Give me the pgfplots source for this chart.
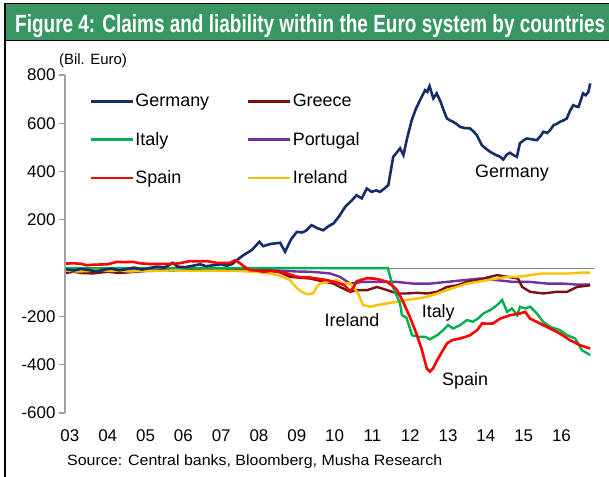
\documentclass[border=0pt]{standalone}
\usepackage{fontspec}
\setmainfont{Liberation Sans}
\usepackage{pgfplots}
\pgfplotsset{compat=1.18}
\definecolor{titlegreen}{RGB}{56,150,100}
\definecolor{cGer}{RGB}{20,45,105}
\definecolor{cGre}{RGB}{122,18,18}
\definecolor{cIta}{RGB}{0,176,80}
\definecolor{cPor}{RGB}{112,48,160}
\definecolor{cSpa}{RGB}{255,0,0}
\definecolor{cIre}{RGB}{255,192,0}
\definecolor{axgray}{RGB}{160,160,160}
\begin{document}
\begin{tikzpicture}[x=1bp,y=1bp]
\path[use as bounding box] (0,0) rectangle (609,477);
\fill[titlegreen] (5,437) rectangle (609,472.5);
\draw[black,line width=1.5bp] (4,473.3) -- (609,473.3);
\draw[black,line width=1.3bp] (5,436.5) -- (609,436.5);
\draw[black,line width=2bp] (5,0) -- (5,474);
\node[anchor=base west,inner sep=0,text=white] at (15,444)
  {\resizebox{590bp}{\height}{\fontsize{25}{28}\selectfont\bfseries Figure 4: Claims and liability within the Euro system by countries}};
\begin{axis}[
  at={(65bp,64bp)}, anchor=south west, scale only axis,
  width=529bp, height=338bp,
  xmin=2.87, xmax=16.86, ymin=-600, ymax=800,
  axis y line*=left, axis x line*=bottom,
  x axis line style={draw=none},
  y axis line style={draw=axgray,line width=1.3bp,-},
  ytick={-600,-400,-200,200,400,600,800},
  yticklabels={-600,-400,-200,200,400,600,800},
  xtick={3,4,5,6,7,8,9,10,11,12,13,14,15,16},
  xticklabels={03,04,05,06,07,08,09,10,11,12,13,14,15,16},
  tick align=outside, major tick length=6bp,
  ytick style={draw=axgray,line width=1.1bp},
  xtick style={draw=none},
  tick label style={font=\fontsize{17}{20}\selectfont, text=black},
  xticklabel style={yshift=-7bp},
  /pgf/number format/assume math mode=true,
  legend columns=2,
  legend cell align=left,
  legend style={draw=none, fill=none, at={(axis description cs:0.04,0.954)}, anchor=north west,
    font=\fontsize{18}{21}\selectfont, row sep=21bp,
    /tikz/every even column/.append style={column sep=36bp},
    nodes={inner sep=1.5bp}},
  legend image code/.code={\draw[#1,line width=2.6bp] (0bp,0bp) -- (42bp,0bp);},
]
\addlegendimage{cGer}\addlegendentry{Germany}
\addlegendimage{cGre}\addlegendentry{Greece}
\addlegendimage{cIta}\addlegendentry{Italy}
\addlegendimage{cPor}\addlegendentry{Portugal}
\addlegendimage{cSpa}\addlegendentry{Spain}
\addlegendimage{cIre}\addlegendentry{Ireland}
% zero line
\addplot[forget plot, draw=gray, line width=1bp] coordinates {(2.75,0) (16.86,0)};
% Portugal
\addplot[forget plot, cPor, line width=2.4bp] coordinates {
(2.90,-5)(3.50,-6)(4.00,-4)(4.50,-7)(5.00,-5)(5.50,-6)(6.00,-4)(6.50,-6)(7.00,-5)(7.50,-6)(8.00,-8)(8.50,-10)(8.74,-12)(9.00,-14)(9.35,-15)(9.61,-18)(9.88,-22)(10.14,-36)(10.41,-64)(10.75,-57)(11.20,-57)(11.65,-57)(12.07,-64)(12.52,-64)(12.97,-57)(13.40,-50)(13.85,-43)(14.30,-50)(14.72,-57)(15.17,-57)(15.62,-64)(16.04,-64)(16.41,-68)(16.76,-68)};
% Greece
\addplot[forget plot, cGre, line width=2.4bp] coordinates {
(2.90,-20)(3.10,-15)(3.30,-20)(3.60,-22)(4.00,-15)(4.30,-20)(4.50,-18)(5.00,-12)(5.50,-10)(6.00,-8)(6.50,-5)(7.00,-5)(7.50,-5)(8.00,-8)(8.48,-12)(8.82,-36)(9.10,-40)(9.35,-43)(9.70,-55)(9.97,-64)(10.14,-78)(10.41,-98)(10.59,-91)(10.86,-91)(11.12,-78)(11.39,-91)(11.65,-105)(11.92,-105)(12.18,-102)(12.44,-105)(12.71,-98)(12.97,-78)(13.24,-71)(13.50,-57)(13.77,-50)(14.03,-39)(14.30,-29)(14.46,-33)(14.69,-39)(14.85,-43)(14.96,-78)(15.17,-98)(15.51,-105)(15.88,-98)(16.15,-98)(16.41,-78)(16.76,-71)};
% Ireland
\addplot[forget plot, cIre, line width=2.4bp] coordinates {
(2.90,-10)(3.20,-14)(3.50,-12)(3.79,-5)(4.00,-12)(4.30,-10)(4.60,-14)(5.00,-10)(5.40,-12)(5.80,-8)(6.20,-12)(6.60,-10)(7.00,-10)(7.40,-12)(7.90,-15)(8.20,-20)(8.48,-29)(8.65,-38)(8.82,-50)(9.01,-84)(9.15,-100)(9.27,-108)(9.43,-105)(9.52,-80)(9.61,-64)(9.80,-57)(10.06,-50)(10.22,-64)(10.41,-62)(10.62,-105)(10.75,-153)(10.94,-160)(11.12,-153)(11.39,-146)(11.65,-139)(11.92,-132)(12.18,-126)(12.44,-119)(12.71,-105)(12.97,-91)(13.24,-77)(13.50,-64)(13.77,-57)(14.03,-50)(14.30,-43)(14.56,-36)(14.83,-36)(15.17,-29)(15.51,-22)(15.88,-22)(16.22,-22)(16.57,-18)(16.76,-19)};
% Italy
\addplot[forget plot, cIta, line width=2.4bp] coordinates {
(2.90,0)(11.41,0)(11.54,-77)(11.73,-146)(11.78,-195)(11.90,-205)(12.05,-278)(12.21,-284)(12.39,-284)(12.52,-295)(12.71,-278)(12.87,-257)(13.00,-236)(13.13,-250)(13.32,-236)(13.50,-215)(13.66,-222)(13.79,-209)(13.93,-188)(14.11,-174)(14.30,-153)(14.43,-132)(14.56,-181)(14.69,-167)(14.83,-195)(14.90,-160)(15.04,-167)(15.17,-160)(15.35,-188)(15.51,-222)(15.70,-243)(15.96,-257)(16.15,-278)(16.36,-291)(16.54,-340)(16.76,-360)};
% Germany
\addplot[forget plot, cGer, line width=2.6bp] coordinates {
(2.90,-5)(3.10,-10)(3.30,-3)(3.50,-8)(3.70,-14)(3.90,-6)(4.10,-2)(4.30,-9)(4.50,-4)(4.70,2)(4.90,-6)(5.10,0)(5.30,6)(5.50,2)(5.72,22)(5.85,6)(6.05,4)(6.25,10)(6.44,16)(6.60,8)(6.80,12)(7.00,16)(7.15,10)(7.30,18)(7.41,33)(7.60,55)(7.81,75)(8.01,109)(8.11,91)(8.30,100)(8.56,105)(8.69,68)(8.85,120)(9.00,150)(9.15,148)(9.26,157)(9.39,178)(9.55,165)(9.70,157)(9.85,175)(9.97,185)(10.12,215)(10.28,254)(10.45,280)(10.58,302)(10.72,289)(10.85,330)(10.98,316)(11.10,322)(11.20,316)(11.32,330)(11.42,344)(11.55,461)(11.65,480)(11.73,496)(11.82,468)(11.92,540)(12.04,613)(12.15,660)(12.26,696)(12.39,737)(12.45,730)(12.51,754)(12.61,703)(12.70,724)(12.80,690)(12.88,655)(12.97,620)(13.05,612)(13.14,606)(13.24,595)(13.32,585)(13.45,580)(13.58,579)(13.68,565)(13.76,551)(13.89,510)(14.00,495)(14.11,482)(14.25,470)(14.38,461)(14.46,450)(14.55,470)(14.64,478)(14.73,468)(14.82,461)(14.90,517)(15.00,530)(15.08,537)(15.20,534)(15.35,530)(15.45,548)(15.52,565)(15.62,560)(15.70,572)(15.79,592)(15.88,598)(15.96,606)(16.05,612)(16.14,620)(16.22,650)(16.31,675)(16.38,670)(16.45,668)(16.52,700)(16.57,724)(16.64,716)(16.71,730)(16.76,765)};
% Spain
\addplot[forget plot, cSpa, line width=2.6bp] coordinates {
(2.90,19)(3.10,20)(3.30,18)(3.44,12)(3.60,14)(3.80,15)(4.00,16)(4.24,26)(4.45,25)(4.67,26)(4.85,20)(5.12,17)(5.40,17)(5.65,17)(5.90,20)(6.17,29)(6.40,28)(6.62,29)(6.88,22)(7.05,22)(7.23,22)(7.37,33)(7.50,20)(7.62,5)(7.76,-8)(7.95,-10)(8.11,-15)(8.30,-12)(8.48,-15)(8.74,-22)(9.01,-36)(9.20,-38)(9.35,-39)(9.60,-45)(9.80,-50)(10.06,-60)(10.25,-70)(10.41,-95)(10.50,-80)(10.58,-55)(10.67,-50)(10.85,-42)(11.02,-43)(11.20,-48)(11.39,-57)(11.55,-75)(11.65,-91)(11.81,-139)(11.99,-202)(12.18,-278)(12.31,-340)(12.44,-416)(12.52,-429)(12.60,-416)(12.70,-385)(12.79,-360)(12.97,-312)(13.11,-298)(13.32,-291)(13.45,-285)(13.58,-278)(13.77,-257)(13.90,-229)(14.05,-230)(14.19,-229)(14.38,-209)(14.64,-195)(14.90,-188)(15.04,-181)(15.17,-209)(15.43,-229)(15.70,-250)(15.96,-271)(16.22,-298)(16.49,-319)(16.76,-333)};
\node[font=\fontsize{18}{21}\selectfont] at (axis cs:14.69,394) {Germany};
\node[font=\fontsize{18}{21}\selectfont] at (axis cs:10.46,-215) {Ireland};
\node[font=\fontsize{18}{21}\selectfont] at (axis cs:12.74,-186) {Italy};
\node[font=\fontsize{18}{21}\selectfont] at (axis cs:13.45,-468) {Spain};
\end{axis}
\node[font=\fontsize{15}{18}\selectfont] at (93,416) {(Bil. Euro)};
\node[anchor=base west,inner sep=0] at (67,11)
  {\resizebox{375bp}{\height}{\fontsize{15}{18}\selectfont Source: Central banks, Bloomberg, Musha Research}};
\end{tikzpicture}
\end{document}
